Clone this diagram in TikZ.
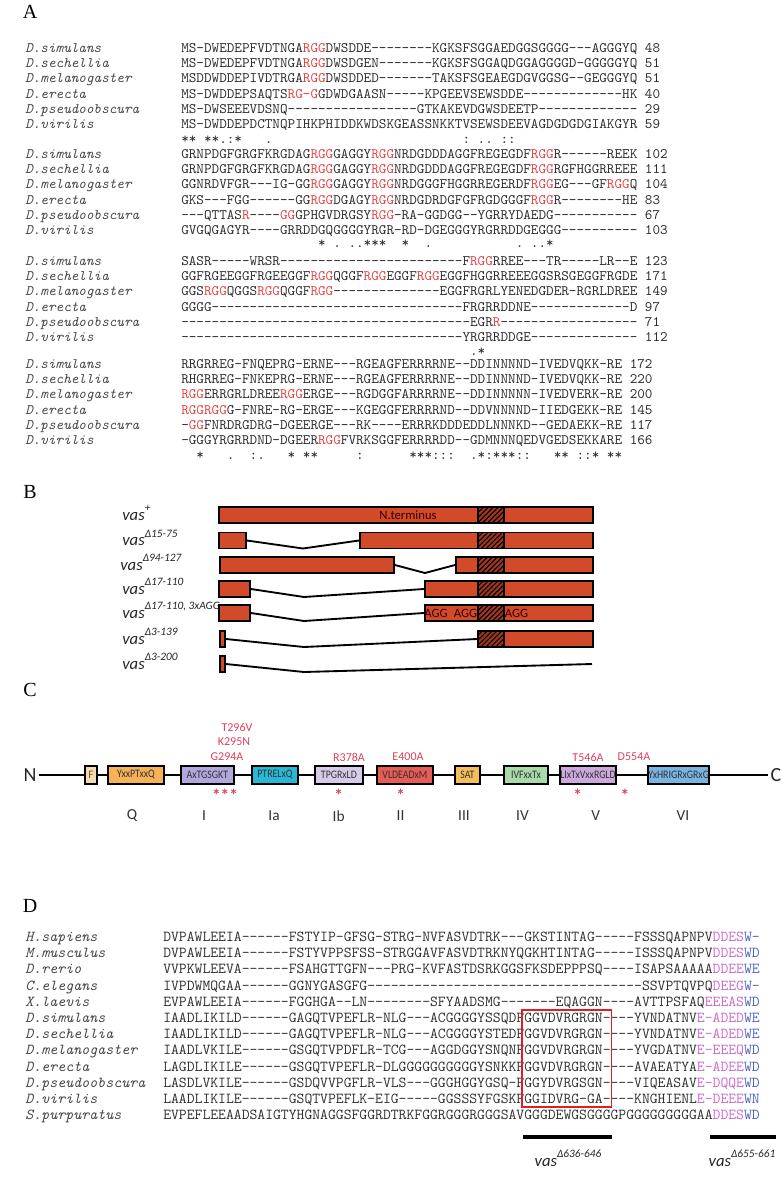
\documentclass[tikz,border=0pt]{standalone}
\usepackage{fontspec}
\setmainfont{Liberation Serif}
\newfontfamily\calfont{Carlito}
\usepackage{graphicx}
\usepackage{tikz}
\usetikzlibrary{positioning, patterns.meta}

\definecolor{seqred}{RGB}{226,70,70}
\definecolor{acidpink}{RGB}{204,104,200}
\definecolor{trpblue}{RGB}{76,96,210}
\definecolor{barred}{RGB}{209,74,42}
\definecolor{mutred}{RGB}{222,64,92}
\definecolor{boxred}{RGB}{226,30,36}
\definecolor{cF}{RGB}{242,220,176}
\definecolor{cQ}{RGB}{247,178,88}
\definecolor{cI}{RGB}{178,168,222}
\definecolor{cIa}{RGB}{40,184,214}
\definecolor{cIb}{RGB}{214,204,234}
\definecolor{cII}{RGB}{232,92,86}
\definecolor{cIII}{RGB}{246,190,90}
\definecolor{cIV}{RGB}{168,218,170}
\definecolor{cV}{RGB}{204,168,222}
\definecolor{cVI}{RGB}{122,180,226}

\newcommand{\rg}[1]{\textcolor{seqred}{#1}}
\newcommand{\pk}[1]{\textcolor{acidpink}{#1}}
\newcommand{\bl}[1]{\textcolor{trpblue}{#1}}
\newcommand{\vsup}[1]{\raisebox{0.5em}{\fontsize{8.5}{9}\selectfont #1}}
\newcommand{\mtxt}[1]{\scalebox{0.86}[1]{#1}}

\begin{document}
\begin{tikzpicture}[
    x=0.75pt, y=-0.75pt,
    panel/.style={font=\fontsize{15}{15}\selectfont, inner sep=0pt},
    spname/.style={font=\ttfamily\itshape\fontsize{10.86}{12}\selectfont,
        text=black!72, anchor=base west, inner sep=0pt},
    seqtxt/.style={font=\ttfamily\fontsize{10.86}{12}\selectfont,
        text=black!82, anchor=base west, inner sep=0pt},
    spnameD/.style={spname, font=\ttfamily\itshape\fontsize{11.43}{12}\selectfont},
    seqD/.style={seqtxt, font=\ttfamily\fontsize{11.43}{12}\selectfont},
    seg/.style={draw=black, line width=1.4pt, fill=barred,
        minimum height=16*0.75pt, inner sep=0pt, anchor=west},
    hatchbox/.style={seg, fill=barred!75!black,
        postaction={pattern={Lines[angle=45,distance=2.6pt,line width=0.8pt]}}},
    link/.style={line width=1.4pt},
    vaslbl/.style={font=\calfont\itshape\fontsize{12.5}{13}\selectfont,
        text=black!85, anchor=base west, inner sep=0pt},
    bartxt/.style={font=\calfont\fontsize{9.5}{10}\selectfont,
        text=black!80!red, inner sep=0pt},
    term/.style={font=\calfont\fontsize{15}{15}\selectfont, text=black!85, inner sep=1.5pt},
    backbone/.style={line width=1.4pt},
    motif/.style={draw=black, line width=1.4pt, minimum height=18*0.75pt,
        inner xsep=0.3pt, inner ysep=0pt, anchor=west,
        font=\calfont\fontsize{8.6}{9}\selectfont, text=black!80},
    mutlbl/.style={font=\calfont\fontsize{9}{10}\selectfont, text=mutred, inner sep=0pt},
    mutstar/.style={font=\calfont\bfseries\fontsize{13}{13}\selectfont, text=mutred, inner sep=0pt},
    numlbl/.style={font=\calfont\fontsize{11.5}{12}\selectfont, text=black!80, inner sep=0pt},
]
\useasboundingbox (0,0) rectangle (782,1177);

% ── Panel A: N-terminal alignment ──
\node[panel] (pA) at (30,12) {A};

\foreach \nm/\sq [count=\i] in {
    D.simulans/{MS-DWEDEPFVDTNGA\rg{RGG}DWSDDE--------KGKSFSGGAEDGGSGGGG---AGGGYQ~48},
    D.sechellia/{MS-DWEDEPFVDTNGA\rg{RGG}DWSDGEN-------KGKSFSGGAQDGGAGGGGD-GGGGGYQ~51},
    D.melanogaster/{MSDDWDDEPIVDTRGA\rg{RGG}DWSDDED-------TAKSFSGEAEGDGVGGSG--GEGGGYQ~51},
    D.erecta/{MS-DWDDEPSAQTS\rg{RG-G}GDWDGAASN-----KPGEEVSEWSDDE-------------HK~40},
    D.pseudoobscura/{MS-DWSEEEVDSNQ-----------------GTKAKEVDGWSDEETP-------------~29},
    D.virilis/{MS-DWDDEPDCTNQPIHKPHIDDKWDSKGEASSNKKTVSEWSDEEVAGDGDGDGIAKGYR~59}}{
    \node[spname] (a1n\i) at (25,{52.3+15.3*(\i-1)}) {\nm};
    \node[seqtxt] (a1s\i) at (181,{52.3+15.3*(\i-1)}) {\sq};
}
\node[seqtxt] (a1c) at (181,144) {**~**.:*~~~.~~~~~~~~~~~~~~~~~~~~~~~~~:~..~::};

\foreach \nm/\sq [count=\i] in {
    D.simulans/{GRNPDGFGRGFKRGDAG\rg{RGG}GAGGY\rg{RGG}NRDGDDDAGGFREGEGDF\rg{RGG}R------REEK~102},
    D.sechellia/{GRNPDGFGRGFKRGDAG\rg{RGG}GAGGY\rg{RGG}NRDGDDDAGGFREGEGDF\rg{RGG}RGFHGGRREEE~111},
    D.melanogaster/{GGNRDVFGR---IG-GG\rg{RGG}GAGGY\rg{RGG}NRDGGGFHGGRREGERDF\rg{RGG}EG---GF\rg{RGG}Q~104},
    D.erecta/{GKS---FGG------GG\rg{RGG}DGAGY\rg{RGG}NRDGDRDGFGFRGDGGGF\rg{RGG}R--------HE~83},
    D.pseudoobscura/{---QTTAS\rg{R}----\rg{GG}GPHGVDRGSY\rg{RGG}-RA-GGDGG--YGRRYDAEDG-----------~67},
    D.virilis/{GVGQGAGYR----GRRDDGQGGGGYRGR-RD-DGEGGGYRGRRDDGEGGG----------~103}}{
    \node[spname] (a2n\i) at (25,{158.3+15.3*(\i-1)}) {\nm};
    \node[seqtxt] (a2s\i) at (181,{158.3+15.3*(\i-1)}) {\sq};
}
\node[seqtxt] (a2c) at (181,247) {~~~~~~~~~~~~~~~~~~*~.~..***~~*~~.~~~~~~~~~~~.~..*};

\foreach \nm/\sq [count=\i] in {
    D.simulans/{SASR-----WRSR------------------------F\rg{RGG}RREE---TR-----LR--E~123},
    D.sechellia/{GGFRGEEGGFRGEEGGF\rg{RGG}QGGF\rg{RGG}EGGF\rg{RGG}EGGFHGGRREEEGGSRSGEGGFRGDE~171},
    D.melanogaster/{GGS\rg{RGG}QGGS\rg{RGG}QGGF\rg{RGG}--------------EGGFRGRLYENEDGDER-RGRLDREE~149},
    D.erecta/{GGGG---------------------------------FRGRRDDNE-------------D~97},
    D.pseudoobscura/{--------------------------------------EGR\rg{R}------------------~71},
    D.virilis/{-------------------------------------YRGRRDDGE--------------~112}}{
    \node[spname] (a3n\i) at (25,{265.3+15.3*(\i-1)}) {\nm};
    \node[seqtxt] (a3s\i) at (181,{265.3+15.3*(\i-1)}) {\sq};
}
\node[seqtxt] (a3c) at (181,355) {~~~~~~~~~~~~~~~~~~~~~~~~~~~~~~~~~~~~~~.*};

\foreach \nm/\sq [count=\i] in {
    D.simulans/{RRGRREG-FNQEPRG-ERNE---RGEAGFERRRRNE--DDINNNND-IVEDVQKK-RE~172},
    D.sechellia/{RHGRREG-FNKEPRG-ERNE---RGEAGFERRRRNE--DDINNNND-IVEDVQKK-RE~220},
    D.melanogaster/{\rg{RGG}ERRGRLDREE\rg{RGG}ERGE---RGDGGFARRRRNE--DDINNNNN-IVEDVERK-RE~200},
    D.erecta/{\rg{RGGRGG}G-FNRE-RG-ERGE---KGEGGFERRRRND--DDVNNNND-IIEDGEKK-RE~145},
    D.pseudoobscura/{-\rg{GG}FNRDRGDRG-DGEERGE---RK----ERRRKDDDEDDLNNNKD--GEDAEKK-RE~117},
    D.virilis/{-GGGYRGRRDND-DGEER\rg{RGG}FVRKSGGFERRRRDD--GDMNNNQEDVGEDSEKKARE~166}}{
    \node[spname] (a4n\i) at (25,{368.3+15.3*(\i-1)}) {\nm};
    \node[seqtxt] (a4s\i) at (181,{368.3+15.3*(\i-1)}) {\sq};
}
\node[seqtxt] (a4c) at (181,459) {~~*~~~.~~:.~~~*~**~~~~~:~~~~~~***:::~~.*:***::~~~**~::*~**};

% ── Panel B: deletion constructs ──
\node[panel] (pB) at (30,492) {B};

\node[vaslbl] (l1) at (122,520) {vas\vsup{+}};
\node[seg, minimum width=374*0.75pt] (b1) at (218,515) {};
\node[hatchbox, minimum width=26*0.75pt] (h1) at (477,515) {};
\node[bartxt] (nterm) at (408,515) {N.terminus};

\node[vaslbl] (l2) at (122,545.5) {vas\vsup{Δ15-75}};
\node[seg, minimum width=27*0.75pt] (b2a) at (218,540.5) {};
\node[seg, minimum width=233*0.75pt] (b2b) at (359,540.5) {};
\node[hatchbox, minimum width=26*0.75pt] (h2) at (477,540.5) {};
\coordinate (v2) at (303,548.5);
\draw[link] (b2a.east) -- (v2) -- (b2b.west);

\node[vaslbl] (l3) at (120,570) {vas\vsup{Δ94-127}};
\node[seg, minimum width=174*0.75pt] (b3a) at (219,565) {};
\node[seg, minimum width=137*0.75pt] (b3b) at (455,565) {};
\node[hatchbox, minimum width=26*0.75pt] (h3) at (477,565) {};
\coordinate (v3) at (425,573);
\draw[link] (b3a.east) -- (v3) -- (b3b.west);

\node[vaslbl] (l4) at (122,594) {vas\vsup{Δ17-110}};
\node[seg, minimum width=31*0.75pt] (b4a) at (218,589) {};
\node[seg, minimum width=168*0.75pt] (b4b) at (424,589) {};
\node[hatchbox, minimum width=26*0.75pt] (h4) at (477,589) {};
\coordinate (v4) at (304,597);
\draw[link] (b4a.east) -- (v4) -- (b4b.west);

\node[vaslbl] (l5) at (122,618) {vas\vsup{Δ17-110, 3xAGG}};
\node[seg, minimum width=31*0.75pt] (b5a) at (218,613) {};
\node[seg, minimum width=168*0.75pt] (b5b) at (424,613) {};
\node[hatchbox, minimum width=26*0.75pt] (h5) at (477,613) {};
\coordinate (v5) at (304,621);
\draw[link] (b5a.east) -- (v5) -- (b5b.west);
\node[bartxt] (agg1) at (436,613) {AGG};
\node[bartxt] (agg2) at (465.5,613) {AGG};
\node[bartxt] (agg3) at (516.5,613) {AGG};

\node[vaslbl] (l6) at (122,644) {vas\vsup{Δ3-139}};
\node[seg, minimum width=5*0.75pt] (b6a) at (219,639) {};
\node[seg, minimum width=115*0.75pt] (b6b) at (477,639) {};
\node[hatchbox, minimum width=26*0.75pt] (h6) at (477,639) {};
\coordinate (v6) at (304,647);
\draw[link] (b6a.east) -- (v6) -- (b6b.west);

\node[vaslbl] (l7) at (122,669) {vas\vsup{Δ3-200}};
\node[seg, minimum width=5*0.75pt] (b7a) at (219,664) {};
\coordinate (v7) at (304,672);
\coordinate (e7) at (592,664);
\draw[link] (b7a.east) -- (v7) -- (e7);

% ── Panel C: helicase motifs ──
\node[panel] (pC) at (30,690) {C};

\node[term] (nN) at (30,775) {N};
\node[term] (nC) at (776,775) {C};
\draw[backbone] (nN) -- (nC);

\node[motif, fill=cF, text=brown!70!black, minimum width=12*0.75pt] (mtF) at (84,775) {F};
\node[motif, fill=cQ, minimum width=56*0.75pt] (mtQ) at (107,775) {\mtxt{YxxPTxxQ}};
\node[motif, fill=cI, minimum width=53*0.75pt] (mtI) at (180,775) {\mtxt{AxTGSGKT}};
\node[motif, fill=cIa, minimum width=46*0.75pt] (mtIa) at (251,775) {\mtxt{PTRELxQ}};
\node[motif, fill=cIb, minimum width=48*0.75pt] (mtIb) at (314,775) {\mtxt{TPGRxLD}};
\node[motif, fill=cII, minimum width=56*0.75pt] (mtII) at (376,775) {\mtxt{VLDEADxM}};
\node[motif, fill=cIII, minimum width=25*0.75pt] (mtIII) at (454,775) {\mtxt{SAT}};
\node[motif, fill=cIV, minimum width=44*0.75pt] (mtIV) at (503,775) {\mtxt{IVFxxTx}};
\node[motif, fill=cV, minimum width=56*0.75pt] (mtV) at (559,775) {\mtxt{LIxTxVxxRGLD}};
\node[motif, fill=cVI, minimum width=61*0.75pt] (mtVI) at (647,775) {\mtxt{YxHRIGRxGRxG}};

\node[mutlbl] (mu1) at (237,727) {T296V};
\node[mutlbl] (mu2) at (234,742) {K295N};
\node[mutlbl] (mu3) at (227,757) {G294A};
\node[mutlbl] (mu4) at (349,757) {R378A};
\node[mutlbl] (mu5) at (408,757) {E400A};
\node[mutlbl] (mu6) at (588,757) {T546A};
\node[mutlbl] (mu7) at (634,757) {D554A};

\node[mutstar] (st1) at (225,795) {***};
\node[mutstar] (st2) at (338.6,795) {*};
\node[mutstar] (st3) at (400.6,795) {*};
\node[mutstar] (st4) at (577.6,795) {*};
\node[mutstar] (st5) at (625,795) {*};

\node[numlbl] (rQ) at (132,816) {Q};
\node[numlbl] (rI) at (204,816) {I};
\node[numlbl] (rIa) at (274,816) {Ia};
\node[numlbl] (rIb) at (338.6,816) {Ib};
\node[numlbl] (rII) at (400.6,816) {II};
\node[numlbl] (rIII) at (464,816) {III};
\node[numlbl] (rIV) at (522.5,816) {IV};
\node[numlbl] (rV) at (595.6,816) {V};
\node[numlbl] (rVI) at (683,816) {VI};

% ── Panel D: C-terminal alignment ──
\node[panel] (pD) at (30,906) {D};

\foreach \nm/\sq [count=\i] in {
    H.sapiens/{DVPAWLEEIA------FSTYIP-GFSG-STRG-NVFASVDTRK---GKSTINTAG-----FSSSQAPNPV\pk{DDES}\bl{W-}},
    M.musculus/{DVPAWLEEIA------FSTYVPPSFSS-STRGGAVFASVDTRKNYQGKHTINTAG-----ISSSQAPNPV\pk{DDES}\bl{WD}},
    D.rerio/{VVPKWLEEVA------FSAHGTTGFN---PRG-KVFASTDSRKGGSFKSDEPPPSQ----ISAPSAAAAA\pk{DDEE}\bl{WE}},
    C.elegans/{IVPDWMQGAA------GGNYGASGFG-----------------------------------SSVPTQVPQ\pk{DEEG}\bl{W-}},
    X.laevis/{EVPAWLEEIA------FGGHGA--LN--------SFYAADSMG-------EQAGGN----AVTTPSFAQ\pk{EEEAS}\bl{WD}},
    D.simulans/{IAADLIKILD------GAGQTVPEFLR-NLG---ACGGGGYSSQDFGGVDVRGRGN----YVNDATNV\pk{E-ADED}\bl{WE}},
    D.sechellia/{IAADLIKILD------GAGQTVPEFLR-NLG---ACGGGGYSTEDFGGVDVRGRGN----YVNDATNV\pk{E-ADED}\bl{WE}},
    D.melanogaster/{IAADLVKILE------GSGQTVPDFLR-TCG---AGGDGGYSNQNFGGVDVRGRGN----YVGDATNV\pk{E-EEEQ}\bl{WD}},
    D.erecta/{LAGDLIKILE------GSGQTVPEFLR-DLGGGGGGGGGGYSNKKFGGVDVRGRGN----AVAEATYA\pk{E-ADEE}\bl{WD}},
    D.pseudoobscura/{LASDLVKILE------GSDQVVPGFLR-VLS---GGGHGGYGSQ-FGGYDVRGSGN----VIQEASAV\pk{E-DQQE}\bl{WD}},
    D.virilis/{LAADLIKILE------GSQTVPEFLK-EIG-----GGSSSYFGSKFGGIDVRG-GA----KNGHIENL\pk{E-DEEE}\bl{WN}},
    S.purpuratus/{EVPEFLEEAADSAIGTYHGNAGGSFGGRDTRKFGGRGGGRGGGSAVGGGDEWGSGGGGPGGGGGGGGGAA\pk{DDES}\bl{WD}}}{
    \node[spnameD] (dn\i) at (25,{941.5+16.2*(\i-1)}) {\nm};
    \node[seqD] (ds\i) at (163,{941.5+16.2*(\i-1)}) {\sq};
}

\draw[boxred, line width=1.2pt] (522,1010) rectangle (611.5,1107);

\draw[line width=2.4pt] (523,1137) -- (612,1137);
\draw[line width=2.4pt] (710,1137) -- (776,1137);
\node[vaslbl, anchor=base] (del1) at (568,1166) {vas\vsup{Δ636-646}};
\node[vaslbl, anchor=base] (del2) at (742,1166) {vas\vsup{Δ655-661}};

\end{tikzpicture}
\end{document}
